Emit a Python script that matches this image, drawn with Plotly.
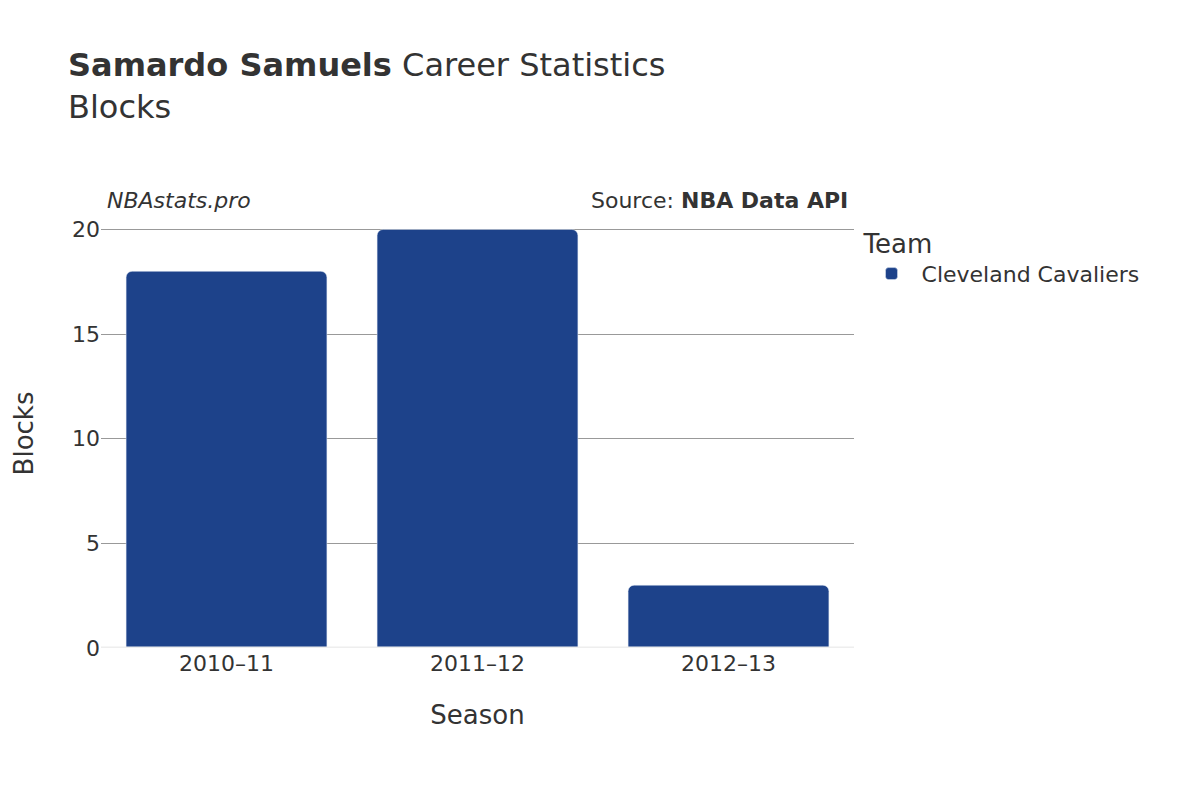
import plotly.graph_objects as go

seasons = ["2010–11", "2011–12", "2012–13"]
blocks = [18, 20, 3]
team = "Cleveland Cavaliers"

fig = go.Figure()
fig.add_trace(go.Bar(x=seasons, y=blocks, name=team, marker_color="#1d428a",
                     marker_cornerradius=6, width=0.8))

fig.update_layout(
    width=1200, height=800,
    font=dict(family="DejaVu Sans", size=22, color="#333"),
    plot_bgcolor="white", paper_bgcolor="white",
    title=dict(text="<b>Samardo Samuels</b> Career Statistics<br>Blocks",
               x=0.05, xanchor="left", y=0.915, yanchor="top", font=dict(size=32)),
    margin=dict(l=93, r=354, t=211, b=160),
    legend=dict(title=dict(text="Team", font=dict(size=26)), x=1.01, y=1.0,
                font=dict(size=22), itemwidth=50),
    xaxis=dict(title=dict(text="Season", font=dict(size=26), standoff=30)),
    yaxis=dict(title=dict(text="Blocks", font=dict(size=26), standoff=30), gridcolor="#999",
               range=[0, 20.5], dtick=5),
    annotations=[
        dict(text="<i>NBAstats.pro</i>", xref="paper", yref="paper", x=0.005, y=1.01,
             showarrow=False, xanchor="left", yanchor="bottom", font=dict(size=22)),
        dict(text="Source: <b>NBA Data API</b>", xref="paper", yref="paper", x=0.995, y=1.01,
             showarrow=False, xanchor="right", yanchor="bottom", font=dict(size=22)),
    ],
    showlegend=True,
)
fig.add_shape(type="line", xref="paper", yref="y", x0=0, x1=1, y0=0, y1=0,
              line=dict(color="#eee", width=3))
fig.write_html("out.html")
